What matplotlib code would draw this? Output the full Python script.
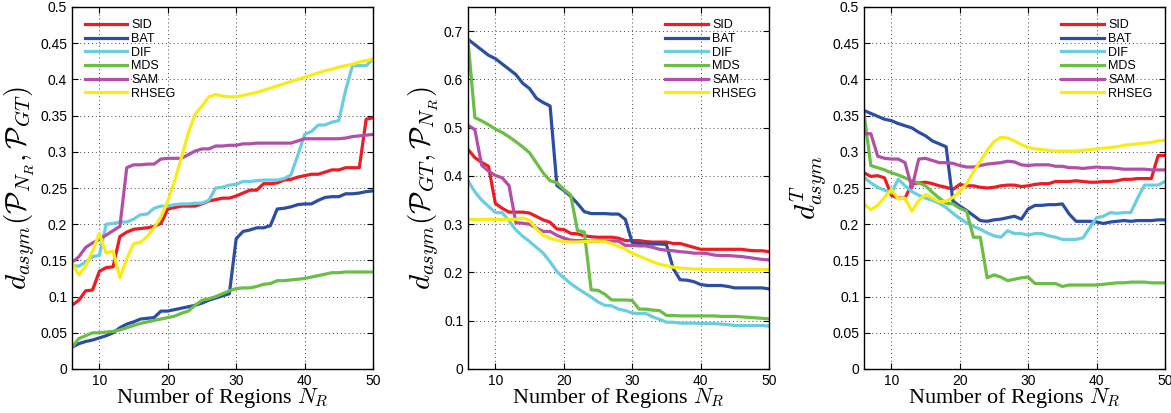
import numpy as np
import matplotlib
matplotlib.use("Agg")
import matplotlib.pyplot as plt

plt.rcParams["font.family"] = ["Liberation Sans", "DejaVu Sans"]
plt.rcParams["mathtext.fontset"] = "cm"

n_regions = list(range(6, 51))
methods = ["SID", "BAT", "DIF", "MDS", "SAM", "RHSEG"]
colors = {"SID": "#ed1c24", "BAT": "#2b4ea2", "DIF": "#6acde0",
          "MDS": "#6abd45", "SAM": "#b24fa8", "RHSEG": "#f7ec13"}

# d_asym(P_NR, P_GT)
seg_vs_gt = {
    "SID": [0.088, 0.095, 0.108, 0.109, 0.135, 0.140, 0.141, 0.183, 0.189, 0.193,
            0.194, 0.195, 0.197, 0.201, 0.221, 0.223, 0.225, 0.225, 0.225, 0.228,
            0.232, 0.234, 0.236, 0.236, 0.239, 0.243, 0.247, 0.247, 0.256, 0.256,
            0.257, 0.261, 0.262, 0.265, 0.267, 0.269, 0.269, 0.272, 0.275, 0.275,
            0.278, 0.278, 0.278, 0.345, 0.347],
    "BAT": [0.030, 0.035, 0.038, 0.040, 0.043, 0.046, 0.050, 0.057, 0.062, 0.065,
            0.069, 0.070, 0.071, 0.080, 0.080, 0.082, 0.084, 0.086, 0.088, 0.091,
            0.095, 0.098, 0.101, 0.104, 0.180, 0.190, 0.192, 0.195, 0.195, 0.198,
            0.221, 0.222, 0.224, 0.227, 0.228, 0.228, 0.233, 0.237, 0.238, 0.238,
            0.242, 0.242, 0.243, 0.245, 0.246],
    "DIF": [0.143, 0.142, 0.148, 0.155, 0.157, 0.200, 0.201, 0.203, 0.203, 0.207,
            0.213, 0.214, 0.222, 0.225, 0.225, 0.227, 0.228, 0.228, 0.229, 0.229,
            0.233, 0.250, 0.251, 0.254, 0.255, 0.259, 0.259, 0.260, 0.261, 0.261,
            0.261, 0.263, 0.268, 0.295, 0.324, 0.328, 0.337, 0.337, 0.341, 0.343,
            0.385, 0.419, 0.419, 0.419, 0.428],
    "MDS": [0.030, 0.042, 0.046, 0.050, 0.050, 0.051, 0.052, 0.054, 0.057, 0.060,
            0.063, 0.065, 0.067, 0.069, 0.071, 0.073, 0.077, 0.080, 0.088, 0.095,
            0.097, 0.100, 0.104, 0.108, 0.111, 0.112, 0.112, 0.114, 0.117, 0.118,
            0.122, 0.122, 0.123, 0.124, 0.125, 0.127, 0.129, 0.131, 0.133, 0.133,
            0.134, 0.134, 0.134, 0.134, 0.134],
    "SAM": [0.147, 0.155, 0.168, 0.174, 0.179, 0.185, 0.191, 0.197, 0.278, 0.282,
            0.282, 0.283, 0.283, 0.290, 0.291, 0.291, 0.291, 0.296, 0.301, 0.304,
            0.304, 0.308, 0.308, 0.309, 0.309, 0.311, 0.311, 0.312, 0.312, 0.312,
            0.312, 0.312, 0.312, 0.315, 0.318, 0.318, 0.318, 0.318, 0.318, 0.318,
            0.319, 0.321, 0.322, 0.323, 0.324],
    "RHSEG": [0.147, 0.130, 0.142, 0.163, 0.187, 0.160, 0.163, 0.126, 0.152, 0.173,
              0.175, 0.183, 0.195, 0.210, 0.232, 0.260, 0.292, 0.326, 0.352, 0.363,
              0.376, 0.379, 0.377, 0.376, 0.376, 0.378, 0.380, 0.382, 0.385, 0.388,
              0.391, 0.394, 0.397, 0.400, 0.403, 0.406, 0.409, 0.412, 0.414, 0.417,
              0.419, 0.421, 0.424, 0.426, 0.428],
}

# d_asym(P_GT, P_NR)
gt_vs_seg = {
    "SID": [0.455, 0.438, 0.428, 0.420, 0.343, 0.333, 0.325, 0.325, 0.325, 0.323,
            0.316, 0.309, 0.304, 0.290, 0.289, 0.281, 0.280, 0.276, 0.274, 0.273,
            0.273, 0.273, 0.271, 0.266, 0.266, 0.266, 0.264, 0.263, 0.263, 0.263,
            0.260, 0.260, 0.256, 0.252, 0.248, 0.248, 0.248, 0.248, 0.248, 0.248,
            0.248, 0.246, 0.245, 0.245, 0.243],
    "BAT": [0.683, 0.672, 0.661, 0.650, 0.643, 0.632, 0.621, 0.610, 0.592, 0.581,
            0.561, 0.552, 0.545, 0.380, 0.370, 0.358, 0.343, 0.326, 0.322, 0.322,
            0.322, 0.321, 0.321, 0.310, 0.262, 0.260, 0.259, 0.259, 0.259, 0.258,
            0.208, 0.185, 0.184, 0.181, 0.175, 0.173, 0.173, 0.173, 0.171, 0.168,
            0.168, 0.168, 0.168, 0.168, 0.166],
    "DIF": [0.390, 0.367, 0.350, 0.337, 0.324, 0.324, 0.307, 0.288, 0.275, 0.264,
            0.252, 0.240, 0.222, 0.202, 0.189, 0.177, 0.167, 0.158, 0.149, 0.139,
            0.132, 0.131, 0.124, 0.121, 0.116, 0.115, 0.115, 0.108, 0.103, 0.097,
            0.097, 0.095, 0.095, 0.095, 0.094, 0.094, 0.094, 0.093, 0.092, 0.090,
            0.090, 0.090, 0.090, 0.090, 0.089],
    "MDS": [0.680, 0.521, 0.514, 0.506, 0.497, 0.490, 0.481, 0.471, 0.460, 0.448,
            0.427, 0.406, 0.390, 0.386, 0.372, 0.361, 0.287, 0.284, 0.164, 0.163,
            0.155, 0.143, 0.143, 0.143, 0.142, 0.124, 0.124, 0.122, 0.121, 0.111,
            0.111, 0.110, 0.110, 0.110, 0.110, 0.110, 0.110, 0.109, 0.109, 0.109,
            0.108, 0.107, 0.106, 0.105, 0.104],
    "SAM": [0.505, 0.496, 0.422, 0.410, 0.401, 0.396, 0.380, 0.303, 0.302, 0.300,
            0.292, 0.285, 0.285, 0.277, 0.271, 0.267, 0.266, 0.266, 0.265, 0.265,
            0.265, 0.265, 0.265, 0.256, 0.256, 0.255, 0.255, 0.252, 0.248, 0.246,
            0.245, 0.243, 0.242, 0.240, 0.240, 0.239, 0.236, 0.235, 0.235, 0.234,
            0.233, 0.231, 0.229, 0.227, 0.226],
    "RHSEG": [0.310, 0.310, 0.310, 0.310, 0.310, 0.310, 0.310, 0.310, 0.313, 0.308,
              0.290, 0.277, 0.271, 0.267, 0.264, 0.263, 0.263, 0.264, 0.265, 0.265,
              0.264, 0.260, 0.254, 0.248, 0.240, 0.234, 0.228, 0.222, 0.217, 0.214,
              0.211, 0.209, 0.208, 0.207, 0.207, 0.206, 0.206, 0.206, 0.206, 0.206,
              0.206, 0.206, 0.206, 0.206, 0.206],
}

# d^T_asym
total_asym = {
    "SID": [0.271, 0.266, 0.267, 0.264, 0.240, 0.236, 0.236, 0.256, 0.257, 0.258,
            0.256, 0.253, 0.251, 0.248, 0.255, 0.253, 0.253, 0.251, 0.250, 0.251,
            0.253, 0.254, 0.254, 0.252, 0.253, 0.255, 0.256, 0.256, 0.259, 0.259,
            0.259, 0.260, 0.259, 0.258, 0.258, 0.259, 0.259, 0.260, 0.262, 0.262,
            0.263, 0.263, 0.263, 0.295, 0.295],
    "BAT": [0.357, 0.353, 0.349, 0.345, 0.343, 0.339, 0.336, 0.333, 0.327, 0.322,
            0.315, 0.311, 0.307, 0.232, 0.225, 0.219, 0.212, 0.205, 0.204, 0.206,
            0.207, 0.209, 0.211, 0.207, 0.221, 0.226, 0.226, 0.227, 0.227, 0.228,
            0.214, 0.204, 0.204, 0.204, 0.203, 0.201, 0.203, 0.204, 0.205, 0.204,
            0.205, 0.205, 0.205, 0.206, 0.206],
    "DIF": [0.265, 0.257, 0.251, 0.247, 0.243, 0.262, 0.253, 0.245, 0.240, 0.236,
            0.233, 0.229, 0.223, 0.215, 0.208, 0.202, 0.197, 0.193, 0.188, 0.184,
            0.182, 0.191, 0.187, 0.187, 0.185, 0.187, 0.187, 0.184, 0.182, 0.179,
            0.179, 0.179, 0.181, 0.195, 0.209, 0.211, 0.216, 0.215, 0.216, 0.216,
            0.236, 0.254, 0.254, 0.254, 0.259],
    "MDS": [0.353, 0.281, 0.278, 0.275, 0.271, 0.268, 0.264, 0.260, 0.257, 0.253,
            0.244, 0.236, 0.229, 0.228, 0.222, 0.218, 0.182, 0.182, 0.126, 0.130,
            0.127, 0.122, 0.124, 0.126, 0.127, 0.118, 0.118, 0.118, 0.118, 0.114,
            0.116, 0.116, 0.116, 0.116, 0.116, 0.117, 0.118, 0.119, 0.119, 0.120,
            0.120, 0.120, 0.119, 0.119, 0.119],
    "SAM": [0.325, 0.325, 0.294, 0.291, 0.290, 0.290, 0.285, 0.250, 0.290, 0.291,
            0.288, 0.285, 0.285, 0.284, 0.281, 0.279, 0.279, 0.281, 0.283, 0.284,
            0.285, 0.287, 0.286, 0.282, 0.281, 0.282, 0.282, 0.282, 0.280, 0.280,
            0.278, 0.278, 0.277, 0.278, 0.279, 0.278, 0.278, 0.277, 0.276, 0.276,
            0.276, 0.276, 0.275, 0.275, 0.275],
    "RHSEG": [0.228, 0.220, 0.226, 0.237, 0.248, 0.235, 0.236, 0.218, 0.233, 0.241,
              0.236, 0.231, 0.232, 0.237, 0.245, 0.256, 0.272, 0.287, 0.302, 0.314,
              0.320, 0.319, 0.315, 0.310, 0.306, 0.304, 0.303, 0.302, 0.301, 0.301,
              0.301, 0.301, 0.302, 0.303, 0.304, 0.305, 0.306, 0.307, 0.309, 0.310,
              0.311, 0.312, 0.313, 0.315, 0.316],
}

panels = [
    (seg_vs_gt, r"$d_{asym}(\mathcal{P}_{N_R},\mathcal{P}_{GT})$", 0.5, 0.05, "upper left"),
    (gt_vs_seg, r"$d_{asym}(\mathcal{P}_{GT},\mathcal{P}_{N_R})$", 0.75, 0.1, "upper right"),
    (total_asym, r"$d^{T}_{asym}$", 0.5, 0.05, "upper right"),
]
lefts = [72 / 1171, 468 / 1171, 864 / 1171]

fig = plt.figure(figsize=(11.71, 4.13), dpi=100)
for left, (data, ylab, ymax, ystep, loc) in zip(lefts, panels):
    ax = fig.add_axes([left, 44 / 413, 301 / 1171, 362 / 413])
    for m in methods:
        ax.plot(n_regions, data[m], color=colors[m], lw=2.3, label=m)
    ax.set_xlim(6, 50)
    ax.set_ylim(0, ymax)
    ax.set_xticks([10, 20, 30, 40, 50])
    yt = np.round(np.arange(0, ymax + 1e-9, ystep), 2)
    if ymax == 0.75:
        yt = yt[yt <= 0.7]
    ax.set_yticks(yt)
    ax.set_yticklabels([("%g" % v) for v in yt])
    ax.tick_params(direction="in", top=True, right=True, labelsize=10,
                   length=4, width=0.8)
    ax.grid(True, color="#444444", linestyle=(0, (1, 3)), lw=0.7)
    for s in ax.spines.values():
        s.set_linewidth(1.0)
    ax.set_xlabel(r"Number of Regions $N_R$", fontsize=16,
                  family="Liberation Serif", labelpad=-1)
    ax.set_ylabel(ylab, fontsize=21, labelpad=2)
    ax.legend(loc=loc, frameon=False, fontsize=9, handlelength=3.4,
              labelspacing=0.13, handletextpad=0.35, borderaxespad=0.6)

fig.savefig("out.png", dpi=100)
